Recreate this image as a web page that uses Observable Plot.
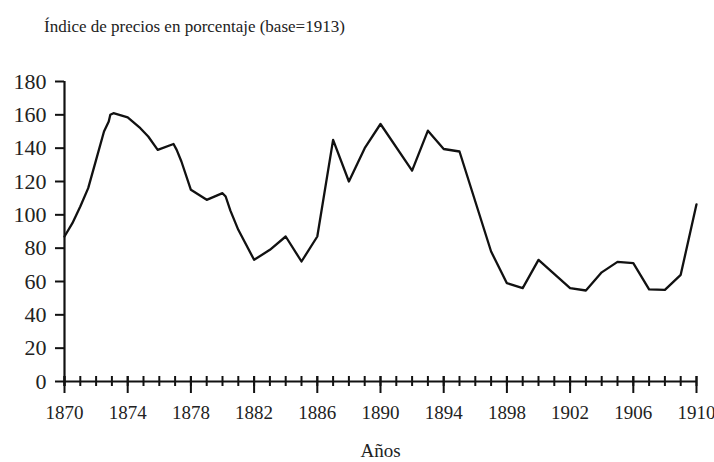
<!DOCTYPE html>
<html>
<head>
<meta charset="utf-8">
<script src="https://cdn.jsdelivr.net/npm/d3@7"></script>
<script src="https://cdn.jsdelivr.net/npm/@observablehq/plot@0.6"></script>
<style>
  html, body { margin: 0; padding: 0; background: #fff; }
  #wrap { width: 714px; height: 462px; position: relative; font-family: "Liberation Serif", "Times New Roman", Times, serif; color: #222; }
  #title { position: absolute; left: 44px; top: 18px; font-size: 17px; line-height: 1; white-space: nowrap; }
  #chart { position: absolute; left: 0; top: 60px; }
</style>
</head>
<body>
<div id="wrap">
  <div id="title">Índice de precios en porcentaje (base=1913)</div>
  <div id="chart"></div>
</div>
<script>
const titleText = "Índice de precios en porcentaje (base=1913)";
const xLabel = "Años";

const years = [1870, 1870.5, 1871, 1871.5, 1872, 1872.5, 1872.8, 1872.9, 1873.1, 1874, 1874.8, 1875.3, 1875.9, 1876.9, 1877.1, 1877.4, 1878, 1879, 1880, 1880.2, 1880.5, 1881, 1882, 1883, 1884, 1885, 1886, 1887, 1888, 1889, 1890, 1892, 1893, 1894, 1895, 1897, 1898, 1899, 1900, 1902, 1903, 1904, 1905, 1906, 1907, 1908, 1909, 1910];
const values = [87, 95, 105, 116, 133, 150, 156, 160, 161, 158.5, 152, 147, 139, 142.5, 139, 132, 115, 109, 113, 111, 102.5, 91, 73, 79, 87, 72, 87, 145, 120, 140, 154.5, 126.5, 150.5, 139.5, 138, 78, 59, 56, 73, 56, 54.6, 65.5, 71.8, 71, 55.3, 55, 64, 106.3];

const yTicks = [0, 20, 40, 60, 80, 100, 120, 140, 160, 180];
const xTickLabels = [1870, 1874, 1878, 1882, 1886, 1890, 1894, 1898, 1902, 1906, 1910];
const minorYears = d3.range(1870, 1911);

const data = years.map((y, i) => ({year: y, value: values[i]}));

const chart = Plot.plot({
  width: 714,
  height: 402,
  marginTop: 21,
  marginBottom: 81,
  marginLeft: 64,
  marginRight: 18,
  style: {fontFamily: "'Liberation Serif', 'Times New Roman', Times, serif", fontSize: "19px", color: "#222", background: "#fff"},
  x: {domain: [1870, 1910]},
  y: {domain: [0, 180]},
  marks: [
    Plot.axisY({ticks: yTicks, tickSize: 9, tickPadding: 9, tickFormat: d => String(d), label: null, fontSize: 22, stroke: "#111", strokeWidth: 2, color: "#222"}),
    Plot.axisX({ticks: xTickLabels, tickSize: 0, tickPadding: 24, tickFormat: d => String(d), label: xLabel, labelAnchor: "center", labelArrow: "none", labelOffset: 75, fontSize: 19, color: "#222"}),
    Plot.ruleX([1870], {stroke: "#111", strokeWidth: 2.2, insetBottom: -5}),
    Plot.ruleY([0], {stroke: "#111", strokeWidth: 2.2}),
    Plot.ruleX(minorYears, {y1: 0, y2: 0, insetTop: -5, insetBottom: -5, stroke: "#111", strokeWidth: 2}),
    Plot.ruleX(xTickLabels, {y1: 0, y2: 0, insetTop: -5, insetBottom: -12, stroke: "#111", strokeWidth: 2}),
    Plot.line(data, {x: "year", y: "value", stroke: "#111", strokeWidth: 2.3, strokeLinejoin: "round"})
  ]
});
document.getElementById("chart").appendChild(chart);
</script>
</body>
</html>
